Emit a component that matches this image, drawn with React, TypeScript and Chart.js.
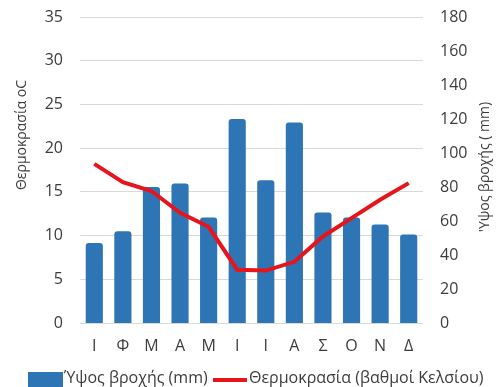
import React, { useEffect, useRef } from "react";
import { Chart, registerables } from "chart.js";

Chart.register(...registerables);

const months = ["Ι", "Φ", "Μ", "Α", "Μ", "Ι", "Ι", "Α", "Σ", "Ο", "Ν", "Δ"];
const rainfall = [47, 54, 80, 82, 62, 120, 84, 118, 65, 62, 58, 52];
const temperature = [18.2, 16.1, 15.1, 12.6, 11.0, 6.1, 6.0, 7.0, 9.9, 12.0, 14.1, 16.0];
const tempTicks = { min: 0, max: 35, step: 5 };
const rainTicks = { min: 0, max: 180, step: 20 };
const rainLabel = "Ύψος βροχής (mm)";
const tempLabel = "Θερμοκρασία (βαθμοί Κελσίου)";
const leftTitle = "Θερμοκρασία oC";
const rightTitle = "'Υψος βροχής ( mm)";

const BLUE = "#2e75b6";
const RED = "#e8141c";
const FONT = "'Open Sans', sans-serif";
const TEXT = "#3c3c3c";

const extrasPlugin = {
  id: "extras",
  afterDraw(chart: any) {
    const ctx = chart.ctx;
    ctx.save();
    ctx.fillStyle = TEXT;
    ctx.font = `14px ${FONT}`;
    ctx.textAlign = "center";
    ctx.textBaseline = "middle";
    // left title
    ctx.save();
    ctx.translate(22, 135);
    ctx.rotate(-Math.PI / 2);
    ctx.fillText(leftTitle, 0, 0);
    ctx.restore();
    // right title
    ctx.save();
    ctx.translate(485, 167);
    ctx.rotate(-Math.PI / 2);
    ctx.fillText(rightTitle, 0, 0);
    ctx.restore();
    // legend
    ctx.font = `16px ${FONT}`;
    ctx.textAlign = "left";
    ctx.fillStyle = BLUE;
    ctx.fillRect(28, 372, 35, 16);
    ctx.fillStyle = TEXT;
    ctx.fillText(rainLabel, 64, 378);
    ctx.strokeStyle = RED;
    ctx.lineWidth = 4;
    ctx.beginPath();
    ctx.moveTo(213, 380);
    ctx.lineTo(247, 380);
    ctx.stroke();
    ctx.fillText(tempLabel, 249, 378);
    ctx.restore();
  },
};

export default function App() {
  const ref = useRef<HTMLCanvasElement>(null);
  useEffect(() => {
    document.body.style.margin = "0";
    const chart = new Chart(ref.current!, {
      type: "bar",
      data: {
        labels: months,
        datasets: [
          {
            type: "line",
            label: tempLabel,
            data: temperature,
            yAxisID: "yT",
            borderColor: RED,
            backgroundColor: RED,
            borderWidth: 4,
            pointRadius: 0,
            tension: 0,
            order: 0,
          } as any,
          {
            type: "bar",
            label: rainLabel,
            data: rainfall,
            yAxisID: "yR",
            backgroundColor: BLUE,
            borderRadius: 3,
            borderSkipped: "bottom",
            barPercentage: 0.6,
            categoryPercentage: 1,
            order: 1,
          },
        ],
      },
      options: {
        animation: false,
        responsive: false,
        layout: { padding: { top: 17, left: 0, right: 0, bottom: 0 } },
        plugins: { legend: { display: false }, tooltip: { enabled: false } },
        scales: {
          x: {
            grid: { display: false, drawTicks: false },
            border: { display: false },
            ticks: { color: TEXT, font: { family: FONT, size: 16 }, padding: 14 },
            afterFit: (s: any) => {
              s.height = 64;
              s.paddingLeft = 0;
              s.paddingRight = 0;
            },
          },
          yT: {
            position: "left",
            min: tempTicks.min,
            max: tempTicks.max,
            ticks: { stepSize: tempTicks.step, color: TEXT, font: { family: FONT, size: 16 }, padding: 17 },
            grid: { color: "#d9d9d9", drawTicks: false, lineWidth: 1 },
            border: { display: false },
            afterFit: (s: any) => {
              s.width = 80;
              s.paddingTop = 0;
              s.paddingBottom = 0;
            },
          },
          yR: {
            position: "right",
            min: rainTicks.min,
            max: rainTicks.max,
            ticks: { stepSize: rainTicks.step, color: TEXT, font: { family: FONT, size: 16 }, padding: 17 },
            grid: { display: false, drawTicks: false },
            border: { display: false },
            afterFit: (s: any) => {
              s.width = 75;
              s.paddingTop = 0;
              s.paddingBottom = 0;
            },
          },
        },
      },
      plugins: [extrasPlugin],
    });
    return () => chart.destroy();
  }, []);
  return (
    <div style={{ width: 498, height: 387, background: "#fff" }}>
      <canvas ref={ref} width={498} height={387} style={{ display: "block" }} />
    </div>
  );
}
